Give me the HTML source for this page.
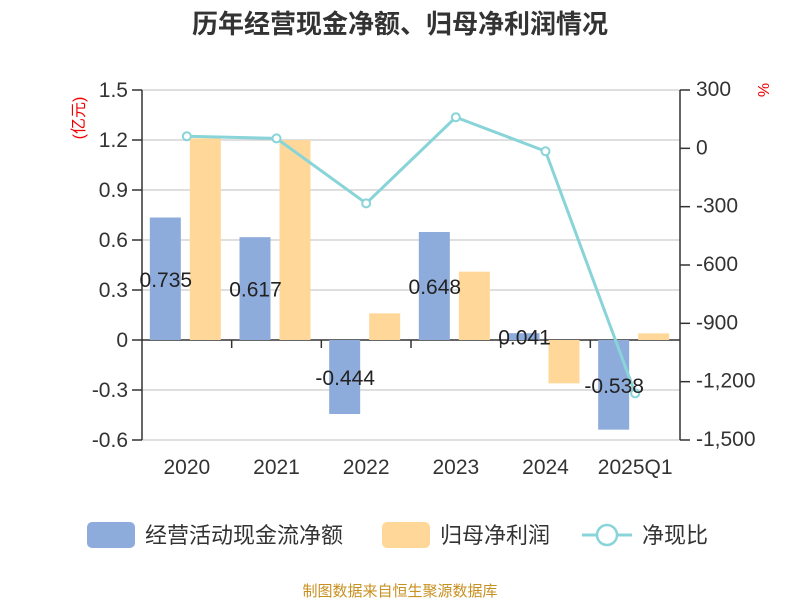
<!DOCTYPE html>
<html><head><meta charset="utf-8"><style>
body{margin:0;background:#fff;width:800px;height:600px;overflow:hidden;font-family:"Liberation Sans","Noto Sans CJK SC",sans-serif}
</style></head><body>
<svg id="c" width="800" height="600" xmlns="http://www.w3.org/2000/svg" font-family="Liberation Sans, Noto Sans CJK SC, sans-serif">
<text x="400" y="33" text-anchor="middle" font-size="26" font-weight="bold" fill="#333">历年经营现金净额、归母净利润情况</text>
<text transform="translate(84,118) rotate(-90)" text-anchor="middle" font-size="16" fill="#e00">(亿元)</text>
<text transform="translate(758,90) rotate(90)" text-anchor="middle" font-size="16" fill="#e00">%</text>
<g id="grid"></g><g id="bars"></g><g id="axes"></g><g id="line"></g><g id="labels"></g>
<g>
<rect x="87" y="522" width="48" height="26" rx="5" fill="#8eacdb"/>
<text x="145" y="543" font-size="22" fill="#333">经营活动现金流净额</text>
<rect x="382" y="522" width="48" height="26" rx="5" fill="#ffd899"/>
<text x="440" y="543" font-size="22" fill="#333">归母净利润</text>
<line x1="582" y1="535" x2="632" y2="535" stroke="#88d4d8" stroke-width="3"/>
<circle cx="607" cy="535" r="10" fill="#fff" stroke="#88d4d8" stroke-width="2.5"/>
<text x="642" y="543" font-size="22" fill="#333">净现比</text>
</g>
<text x="400" y="596" text-anchor="middle" font-size="15" fill="#c89020">制图数据来自恒生聚源数据库</text>
</svg>
<script>
const categories=["2020","2021","2022","2023","2024","2025Q1"];
const cashflow=[0.735,0.617,-0.444,0.648,0.041,-0.538];
const profit=[1.21,1.2,0.16,0.41,-0.26,0.04];
const ratio=[62,51,-283,160,-15,-1260];
const leftTicks=[1.5,1.2,0.9,0.6,0.3,0,-0.3,-0.6];
const rightTicks=["300","0","-300","-600","-900","-1,200","-1,500"];
const NS="http://www.w3.org/2000/svg";
const X0=142,X1=680,T=90,B=440;
const yL=v=>T+(1.5-v)/2.1*(B-T);
const yR=v=>T+(300-v)/1800*(B-T);
const bw=(X1-X0)/categories.length;
const cx=i=>X0+bw*(i+0.5);
function mk(p,tag,a,txt){const e=document.createElementNS(NS,tag);for(const k in a)e.setAttribute(k,a[k]);if(txt!==undefined)e.textContent=txt;document.getElementById(p).appendChild(e);return e;}
leftTicks.forEach((t,i)=>{const y=yL(t);
 const g=mk('grid','line',{x1:X0,x2:X1,y1:y,y2:y,stroke:t===0?'#333':'#ccc','stroke-width':t===0?1.5:1.2});
 
 const tk=mk('axes','line',{x1:X0-10,x2:X0,y1:y,y2:y,stroke:'#333','stroke-width':1.5});
 
 const l=mk('axes','text',{x:X0-14,y:y+7,'text-anchor':'end','font-size':21,fill:'#333'},String(t));
 });
rightTicks.forEach((t,i)=>{const y=yR(300-300*i);
 const tk=mk('axes','line',{x1:X1,x2:X1+10,y1:y,y2:y,stroke:'#333','stroke-width':1.5});
 
 const l=mk('axes','text',{x:X1+16,y:y+6,'font-size':21,fill:'#333'},t);
 });
let a=mk('axes','line',{x1:X0,x2:X0,y1:T,y2:B,stroke:'#333','stroke-width':1.5});

a=mk('axes','line',{x1:X1,x2:X1,y1:T,y2:B,stroke:'#333','stroke-width':1.5});

const y0=yL(0);
categories.forEach((c,i)=>{
 if(i>0){const tk=mk('axes','line',{x1:X0+bw*i,x2:X0+bw*i,y1:y0,y2:y0+8,stroke:'#333','stroke-width':1.5});
  }
 const l=mk('axes','text',{x:cx(i),y:474,'text-anchor':'middle','font-size':21,fill:'#333'},c);
 
 const v=cashflow[i],y=yL(v);
 const b=mk('bars','rect',{x:cx(i)-37,y:Math.min(y,y0),width:31,height:Math.abs(y-y0),fill:'#8eacdb'});
 
 const p=profit[i],yp=yL(p);
 const b2=mk('bars','rect',{x:cx(i)+3,y:Math.min(yp,y0),width:31,height:Math.abs(yp-y0),fill:'#ffd899'});
 
 const t=mk('labels','text',{x:cx(i)-21,y:(y+y0)/2+8,'text-anchor':'middle','font-size':21,fill:'#222'},String(v));
 
});
const pts=ratio.map((r,i)=>cx(i)+','+yR(r)).join(' ');
const pl=mk('line','polyline',{points:pts,fill:'none',stroke:'#88d4d8','stroke-width':3});

ratio.forEach((r,i)=>{const c=mk('line','circle',{cx:cx(i),cy:yR(r),r:4,fill:'#fff',stroke:'#88d4d8','stroke-width':2});
 });
</script>
</body></html>
